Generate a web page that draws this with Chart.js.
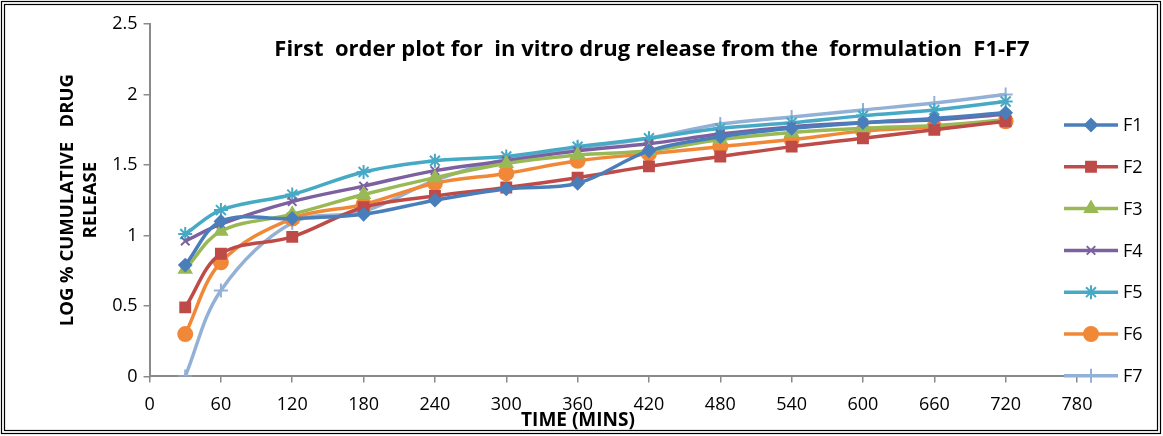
<!DOCTYPE html>
<html>
<head>
<meta charset="utf-8">
<script src="https://cdn.jsdelivr.net/npm/chart.js@4.4.0/dist/chart.umd.min.js"></script>
<style>
  body { margin: 0; background: #fff; }
  #wrap { width: 1163px; height: 436px; }
</style>
</head>
<body>
<div id="wrap"><canvas id="chart"></canvas></div>
<script>
// time points (mins)
const times = [30, 60, 120, 180, 240, 300, 360, 420, 480, 540, 600, 660, 720];

// log % cumulative drug release
const f1 = [0.79, 1.10, 1.12, 1.15, 1.25, 1.33, 1.37, 1.60, 1.70, 1.76, 1.80, 1.83, 1.87];
const f2 = [0.49, 0.87, 0.99, 1.20, 1.28, 1.34, 1.41, 1.49, 1.56, 1.63, 1.69, 1.75, 1.81];
const f3 = [0.76, 1.03, 1.15, 1.29, 1.41, 1.51, 1.57, 1.60, 1.68, 1.73, 1.76, 1.78, 1.82];
const f4 = [0.96, 1.08, 1.24, 1.35, 1.46, 1.53, 1.60, 1.65, 1.72, 1.77, 1.80, 1.82, 1.86];
const f5 = [1.01, 1.18, 1.29, 1.45, 1.53, 1.56, 1.63, 1.69, 1.76, 1.80, 1.85, 1.89, 1.95];
const f6 = [0.30, 0.81, 1.12, 1.22, 1.37, 1.44, 1.53, 1.58, 1.63, 1.68, 1.74, 1.77, 1.81];
const f7 = [0.00, 0.61, 1.09, 1.17, 1.39, 1.54, 1.62, 1.69, 1.79, 1.84, 1.89, 1.94, 2.00];

const seriesNames = ['F1', 'F2', 'F3', 'F4', 'F5', 'F6', 'F7'];
const seriesData = [f1, f2, f3, f4, f5, f6, f7];
const colors = ['#4a7ebb', '#be4b48', '#98b954', '#7d60a0', '#46aac5', '#f08837', '#93b1d6'];
const markers = ['rectRot', 'rect', 'triangle', 'crossRot', 'star', 'circle', 'cross'];
const markerSize = [6, 7, 7, 6, 7, 7, 7];

const xTicks = { min: 0, max: 780, step: 60 };
const yTicks = { min: 0, max: 2.5, step: 0.5 };

const FONT = '"Open Sans", "Liberation Sans", sans-serif';
const axisGrey = '#8a8a8a';

const datasets = seriesNames.map((name, i) => ({
  label: name,
  data: times.map((t, j) => ({ x: t, y: seriesData[i][j] })),
  borderColor: colors[i],
  backgroundColor: colors[i],
  borderWidth: 3.5,
  pointStyle: markers[i],
  pointRadius: markerSize[i],
  pointBorderWidth: 2,
  pointBorderColor: colors[i],
  pointBackgroundColor: colors[i],
  tension: 0.35,
  fill: false
}));

// frame, titles and legend drawn on the canvas
const decor = {
  id: 'decor',
  afterDraw(chart) {
    const ctx = chart.ctx;
    ctx.save();
    ctx.strokeStyle = '#000';
    ctx.lineWidth = 1.2;
    ctx.strokeRect(1.5, 1.5, 1159, 432);
    ctx.strokeRect(4.5, 4.5, 1153, 426);

    ctx.fillStyle = '#000';
    ctx.font = 'bold 22px ' + FONT;
    ctx.textAlign = 'center';
    ctx.textBaseline = 'middle';
    ctx.fillText('First  order plot for  in vitro drug release from the  formulation  F1-F7', 652, 50);

    ctx.font = 'bold 19px ' + FONT;
    ctx.fillText('TIME (MINS)', 578, 421);

    ctx.font = '18px ' + FONT;
    ctx.textAlign = 'left';
    chart.data.datasets.forEach((ds, i) => {
      const y = 125 + i * 41.8;
      ctx.strokeStyle = ds.borderColor;
      ctx.lineWidth = 3.5;
      ctx.beginPath();
      ctx.moveTo(1064, y);
      ctx.lineTo(1118, y);
      ctx.stroke();
      ctx.fillStyle = ds.borderColor;
      ctx.strokeStyle = ds.borderColor;
      ctx.lineWidth = 2;
      Chart.helpers.drawPoint(ctx, { pointStyle: ds.pointStyle, radius: ds.pointRadius, borderWidth: 2, rotation: 0 }, 1091, y);
      ctx.fillStyle = '#000';
      ctx.fillText(ds.label, 1123, y + 1);
    });
    ctx.restore();
  }
};

new Chart(document.getElementById('chart'), {
  type: 'line',
  data: { datasets },
  options: {
    responsive: true,
    maintainAspectRatio: false,
    animation: false,
    layout: { padding: { left: 56, right: 86, top: 24, bottom: 8 } },
    plugins: {
      legend: { display: false },
      title: { display: false },
      tooltip: { enabled: false }
    },
    scales: {
      x: {
        type: 'linear',
        min: xTicks.min,
        max: xTicks.max,
        ticks: { stepSize: xTicks.step, color: '#000', font: { size: 18, family: FONT }, padding: 12 },
        grid: { drawOnChartArea: false, drawTicks: true, tickLength: 6, color: axisGrey, lineWidth: 1.5 },
        border: { color: axisGrey, width: 2 }
      },
      y: {
        min: yTicks.min,
        max: yTicks.max,
        ticks: { stepSize: yTicks.step, color: '#000', font: { size: 18, family: FONT }, padding: 6, callback: v => String(v) },
        grid: { drawOnChartArea: false, drawTicks: true, tickLength: 6, color: axisGrey, lineWidth: 1.5 },
        border: { color: axisGrey, width: 2 },
        title: { display: true, text: ['LOG % CUMULATIVE   DRUG', 'RELEASE'], color: '#000', font: { size: 18.5, weight: 'bold', family: FONT, lineHeight: 1.25 }, padding: { top: 0, bottom: 4 } }
      }
    }
  },
  plugins: [decor]
});
</script>
</body>
</html>
